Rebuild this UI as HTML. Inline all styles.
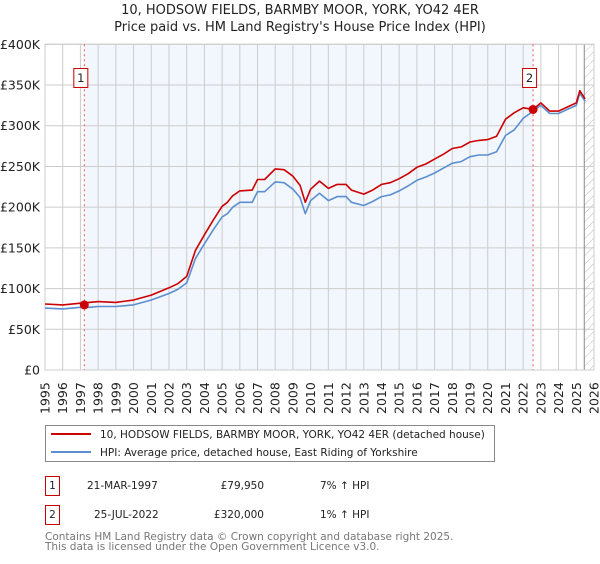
<!DOCTYPE html>
<html><head><meta charset="utf-8"><style>
body{margin:0;background:#fff;font-family:"DejaVu Sans","Liberation Sans",sans-serif;}
svg text{font-family:"DejaVu Sans","Liberation Sans",sans-serif;}
</style></head><body>
<svg id="chart" width="600" height="560" xmlns="http://www.w3.org/2000/svg">
<defs><pattern id="hatch" width="6" height="6" patternUnits="userSpaceOnUse" patternTransform="rotate(45)"><line x1="0" y1="0" x2="0" y2="6" stroke="#bbb" stroke-width="1"/></pattern></defs>
<text x="300" y="14" font-size="13" text-anchor="middle" fill="#222">10, HODSOW FIELDS, BARMBY MOOR, YORK, YO42 4ER</text>
<text x="300" y="31" font-size="13" text-anchor="middle" fill="#222">Price paid vs. HM Land Registry's House Price Index (HPI)</text>
<g id="plot"></g>
<g>
<rect x="45.5" y="425.5" width="449" height="36" fill="#fff" stroke="#888"/>
<line x1="51" y1="434" x2="91" y2="434" stroke="#cc0000" stroke-width="2"/>
<text x="100" y="438" font-size="10.5" fill="#222">10, HODSOW FIELDS, BARMBY MOOR, YORK, YO42 4ER (detached house)</text>
<line x1="51" y1="452" x2="91" y2="452" stroke="#5b8fd0" stroke-width="2"/>
<text x="100" y="456" font-size="10.5" fill="#222">HPI: Average price, detached house, East Riding of Yorkshire</text>
</g>
<g font-size="10.5" fill="#222">
<rect x="45.5" y="476.5" width="14" height="19" fill="#fff" stroke="#cc0000"/>
<text x="52.5" y="489" text-anchor="middle">1</text>
<text x="87" y="489">21-MAR-1997</text>
<text x="264" y="489" text-anchor="end">£79,950</text>
<text x="320" y="489">7% ↑ HPI</text>
<rect x="45.5" y="505.5" width="14" height="19" fill="#fff" stroke="#cc0000"/>
<text x="52.5" y="518" text-anchor="middle">2</text>
<text x="94" y="518">25-JUL-2022</text>
<text x="264" y="518" text-anchor="end">£320,000</text>
<text x="320" y="518">1% ↑ HPI</text>
</g>
<text x="45" y="540" font-size="10.5" fill="#777">Contains HM Land Registry data © Crown copyright and database right 2025.</text>
<text x="45" y="550" font-size="10.5" fill="#777">This data is licensed under the Open Government Licence v3.0.</text>
</svg>
<script>
const yTicks=[0,50,100,150,200,250,300,350,400];
const yTickLabels=["£0","£50K","£100K","£150K","£200K","£250K","£300K","£350K","£400K"];
const xYears=[1995,1996,1997,1998,1999,2000,2001,2002,2003,2004,2005,2006,2007,2008,2009,2010,2011,2012,2013,2014,2015,2016,2017,2018,2019,2020,2021,2022,2023,2024,2025,2026];
const hpiT=[1995,1996,1997,1997.5,1998,1999,2000,2001,2002,2002.5,2003,2003.5,2004,2004.5,2005,2005.3,2005.6,2006,2006.7,2007,2007.4,2008,2008.5,2009,2009.4,2009.7,2010,2010.5,2011,2011.5,2012,2012.3,2013,2013.5,2014,2014.5,2015,2015.5,2016,2016.5,2017,2017.5,2018,2018.5,2019,2019.5,2020,2020.5,2021,2021.5,2022,2022.56,2023,2023.5,2024,2024.5,2025,2025.2,2025.5];
const hpiV=[76,75,77,77,78,78,80,86,94,99,107,137,155,172,188,192,200,206,206,219,219,231,230,222,212,192,208,217,208,213,213,206,202,207,213,215,220,226,233,237,242,248,254,256,262,264,264,268,288,295,309,318,325,315,315,320,325,340,330];
const ppV=[81,80,82,83,84,83,86,92,101,106,115,147,166,184,201,206,214,220,221,234,234,247,246,238,227,206,222,232,223,228,228,221,216,221,228,230,235,241,249,253,259,265,272,274,280,282,283,287,308,316,322,320,328,318,318,323,328,343,333];
const sales=[{t:1997.22,v:79.95,label:"1"},{t:2022.56,v:320,label:"2"}];
const X0=45,X1=594,Y0=370,Y1=44.3,T0=1995,T1=2026,VMAX=400;
function xs(t){return X0+(t-T0)/(T1-T0)*(X1-X0);}
function ys(v){return Y0-v/VMAX*(Y0-Y1);}
const NS="http://www.w3.org/2000/svg";
const g=document.getElementById('plot');
function mk(tag,attrs,parent){const e=document.createElementNS(NS,tag);for(const k in attrs)e.setAttribute(k,attrs[k]);(parent||g).appendChild(e);return e;}
let e;
e=mk('rect',{x:X0,y:Y1,width:X1-X0,height:Y0-Y1,fill:'#fff'});


e=mk('rect',{x:xs(sales[0].t),y:Y1,width:xs(sales[1].t)-xs(sales[0].t),height:Y0-Y1,fill:'#f2f6fd'});


e=mk('rect',{x:xs(2025.45),y:Y1,width:X1-xs(2025.45),height:Y0-Y1,fill:'url(#hatch)'});


xYears.forEach(t=>{
 e=mk('line',{x1:xs(t),x2:xs(t),y1:Y1,y2:Y0,stroke:'#ccc','stroke-width':1});
 
 
 e=mk('text',{x:0,y:0,'font-size':12.5,fill:'#222',transform:`translate(${xs(t)+4.5},414) rotate(-90)`});
 e.textContent=t;
 
 
});
yTicks.forEach((v,i)=>{
 e=mk('line',{x1:X0,x2:X1,y1:ys(v),y2:ys(v),stroke:'#ccc','stroke-width':1});
 
 
 e=mk('text',{x:40,y:ys(v)+4.5,'font-size':12.5,fill:'#222','text-anchor':'end'});
 e.textContent=yTickLabels[i];
 
 
});
e=mk('line',{x1:xs(2025.45),x2:xs(2025.45),y1:Y1,y2:Y0,stroke:'#888','stroke-width':1});


e=mk('rect',{x:X0,y:Y1,width:X1-X0,height:Y0-Y1,fill:'none',stroke:'#ccc'});


sales.forEach(s=>{
 e=mk('line',{x1:xs(s.t),x2:xs(s.t),y1:Y1,y2:Y0,stroke:'#e55','stroke-width':1,'stroke-dasharray':'2,3'});
 
 
});
function path(vals,col,name){
 const d=hpiT.map((t,i)=>(i?'L':'M')+xs(t).toFixed(1)+','+ys(vals[i]).toFixed(1)).join('');
 e=mk('path',{d:d,fill:'none',stroke:col,'stroke-width':1.6,'stroke-linejoin':'round'});
 
 
}
path(hpiV,'#5b8fd0','hpi-line');
path(ppV,'#cc0000','price-paid-line');
sales.forEach(s=>{
 e=mk('circle',{cx:xs(s.t),cy:ys(s.v),r:4.5,fill:'#cc0000'});
 
 
 e=mk('rect',{x:xs(s.t)-10.5,y:68.5,width:14,height:19,fill:'#fff',stroke:'#cc0000'});
 
 
 e=mk('text',{x:xs(s.t)-3.5,y:82,'font-size':11.5,'text-anchor':'middle',fill:'#222'});
 e.textContent=s.label;
 
 
});
</script>
</body></html>
